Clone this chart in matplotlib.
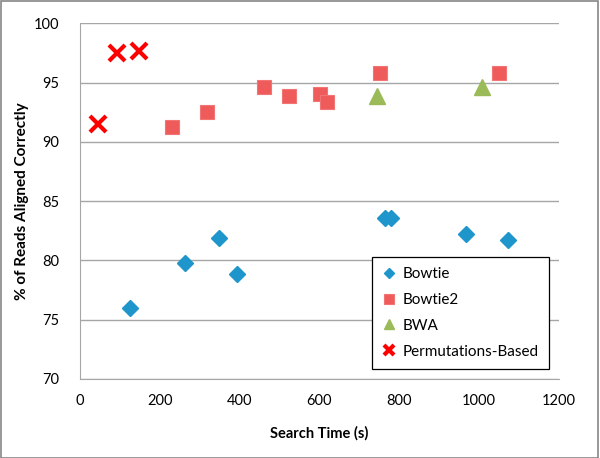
import matplotlib.pyplot as plt
from matplotlib.patches import Rectangle

plt.rcParams['font.family'] = ['Lato', 'DejaVu Sans']

bowtie_x = [125, 263, 349, 394, 764, 780, 966, 1072]
bowtie_y = [75.95, 79.8, 81.9, 78.85, 83.6, 83.6, 82.25, 81.75]

bowtie2_x = [231, 319, 462, 523, 602, 618, 752, 1050]
bowtie2_y = [91.3, 92.5, 94.6, 93.85, 94.05, 93.4, 95.8, 95.8]

bwa_x = [744, 1007]
bwa_y = [93.9, 94.65]

perm_x = [46, 92, 148]
perm_y = [91.5, 97.55, 97.7]

fig = plt.figure(figsize=(6, 4.58), dpi=100)
ax = fig.add_axes([0.1333, 0.1725, 0.7983, 0.7762])

ax.plot(bowtie_x, bowtie_y, linestyle='none', marker='D', markersize=8.5,
        color='#1E96CB', markeredgecolor='#1E96CB', label='Bowtie')
ax.plot(bowtie2_x, bowtie2_y, linestyle='none', marker='s', markersize=10.5,
        color='#EF5B5B', markeredgecolor='#F27474', markeredgewidth=0.8, label='Bowtie2')
ax.plot(bwa_x, bwa_y, linestyle='none', marker='^', markersize=12,
        color='#9BBB59', markeredgecolor='#9BBB59', label='BWA')
ax.plot(perm_x, perm_y, linestyle='none', marker='x', markersize=11,
        markeredgewidth=3, color='#FF0000', label='Permutations-Based')

ax.set_xlim(0, 1200)
ax.set_ylim(70, 100)
ax.set_xticks(range(0, 1201, 200))
ax.set_yticks(range(70, 101, 5))
ax.yaxis.grid(True, color='#A6A6A6', linewidth=1)
ax.set_axisbelow(True)
for s in ['top', 'right']:
    ax.spines[s].set_visible(False)
for s in ['left', 'bottom']:
    ax.spines[s].set_color('#A6A6A6')
ax.tick_params(length=0, labelsize=10.5, colors='#000000')
ax.tick_params(axis='x', pad=11)
ax.tick_params(axis='y', pad=15)

ax.set_xlabel('Search Time (s)', fontsize=10.5, fontweight='bold', labelpad=13)
ax.set_ylabel('% of Reads Aligned Correctly', fontsize=11, fontweight='bold', labelpad=3)

leg = ax.legend(loc='upper left', bbox_to_anchor=(0.6096, 0.343), fontsize=11,
                frameon=True, fancybox=False, edgecolor='#000000', framealpha=1,
                handlelength=0.9, handletextpad=0.45, labelspacing=0.78,
                borderpad=0.65, borderaxespad=0, numpoints=1)
leg.get_frame().set_linewidth(0.9)
for h in leg.legend_handles:
    h.set_markersize(h.get_markersize() * 0.65)

fig.patches.append(Rectangle((0.001, 0.001), 0.996, 0.997, transform=fig.transFigure,
                             fill=False, edgecolor='#868686', linewidth=1.2))

fig.savefig('out.png', dpi=100)
